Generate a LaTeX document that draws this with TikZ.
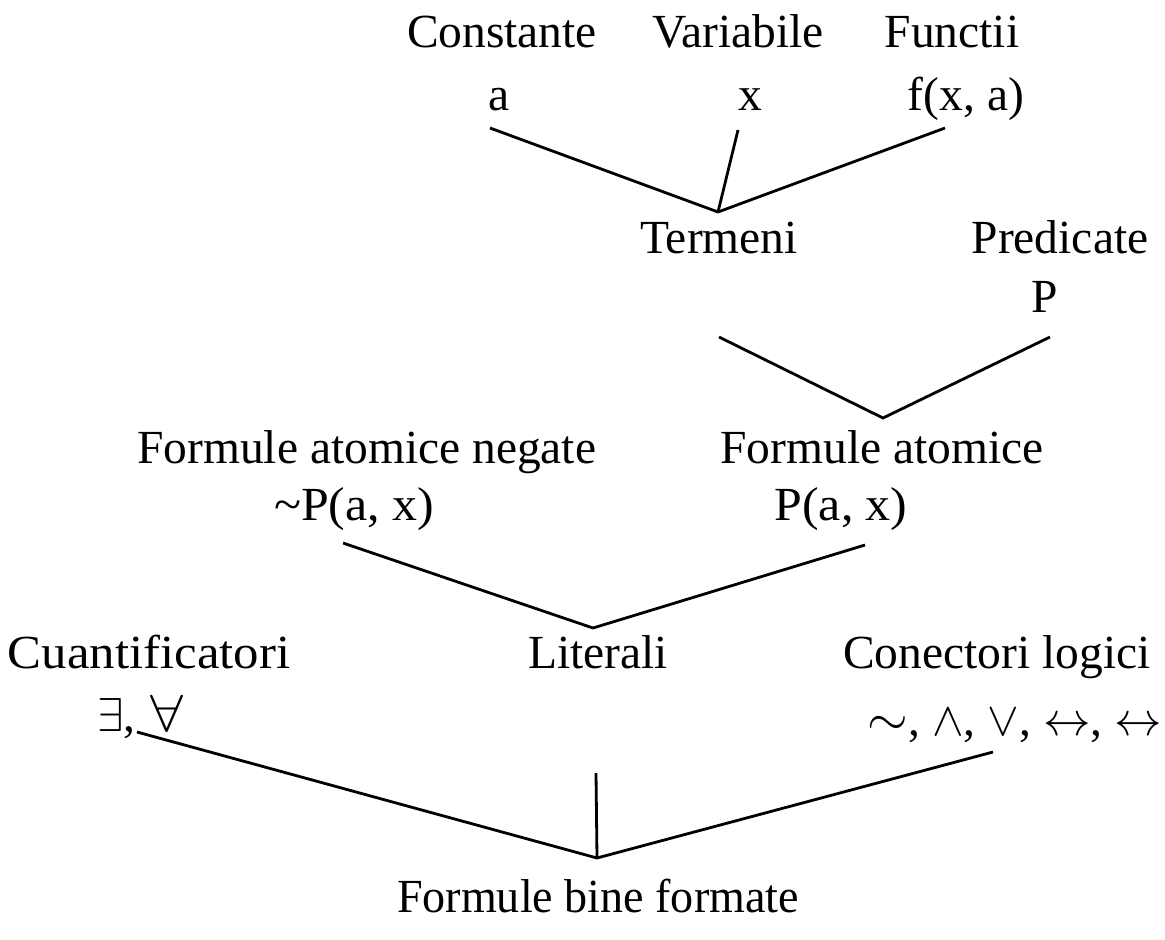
\documentclass[tikz,border=0pt]{standalone}
\usepackage{fix-cm}
\usepackage{graphicx}
\usepackage{fontspec}
\setmainfont{Liberation Serif}
\begin{document}
\begin{tikzpicture}[x=1pt,y=-1pt,
  lbl/.style={inner sep=0pt,anchor=base,font=\fontsize{47.5}{56}\selectfont},
  link/.style={line width=2.8pt}]
\useasboundingbox (0,0) rectangle (1165,940);

% top level: terms
\node[lbl] (const)  at (502,47)  {Constante};
\node[lbl] (var)    at (738,47)  {Variabile};
\node[lbl] (func)   at (952,47)  {Functii};
\node[lbl] (ca)     at (499,110) {a};
\node[lbl] (vx)     at (750,110) {x};
\node[lbl] (ffx)    at (966,110) {f(x, a)};
\coordinate (ca-e)  at (490,128);
\coordinate (vx-e)  at (738,130);
\coordinate (ffx-e) at (945,128);
\coordinate (term-j) at (718,212);
\draw[link] (ca-e) -- (term-j) -- (ffx-e);
\draw[link] (vx-e) -- (term-j);

% terms and predicates
\node[lbl] (term)  at (719,253)  {Termeni};
\node[lbl] (pred)  at (1060,253) {Predicate};
\node[lbl] (predp) at (1045,312) {P};
\coordinate (term-e)  at (719,337);
\coordinate (predp-e) at (1050,337);
\coordinate (atom-j)  at (883,418);
\draw[link] (term-e) -- (atom-j) -- (predp-e);

% atomic formulas
\node[lbl,anchor=base west] (neg) at (137,463) {Formule atomice negate};
\node[lbl] (atom)  at (882,463) {Formule atomice};
\node[lbl,xscale=1.05] (negp)  at (354,520) {\char`\~P(a, x)};
\node[lbl,xscale=1.05] (atomp) at (841,520) {P(a, x)};
\coordinate (negp-e)  at (343,543);
\coordinate (atomp-e) at (865,545);
\coordinate (lit-j)   at (593,628);
\draw[link] (negp-e) -- (lit-j) -- (atomp-e);

% well-formed formulas
\node[lbl,xscale=1.07] (quant) at (149,668) {Cuantificatori};
\node[lbl] (lit)   at (598,668) {Literali};
\node[lbl,anchor=base west] (conn) at (843,668) {Conectori logici};
\node[lbl,anchor=base west] (quants) at (97,731)
  {$\exists$, \hspace{3pt}\scalebox{1.25}[1.1]{$\forall$}};
\node[lbl,anchor=base east] (conns)  at (1162,735)
  {\scalebox{1.1}{$\sim$}, $\wedge$, $\vee$, $\leftrightarrow$, $\leftrightarrow$};
\coordinate (quants-e) at (137,732);
\coordinate (lit-e)    at (596,773);
\coordinate (conns-e)  at (993,752);
\coordinate (wff-j)    at (597,858);
\draw[link] (quants-e) -- (wff-j) -- (conns-e);
\draw[link] (lit-e) -- (wff-j);
\node[lbl,xscale=0.97] (wff) at (598,912) {Formule bine formate};
\end{tikzpicture}
\end{document}
